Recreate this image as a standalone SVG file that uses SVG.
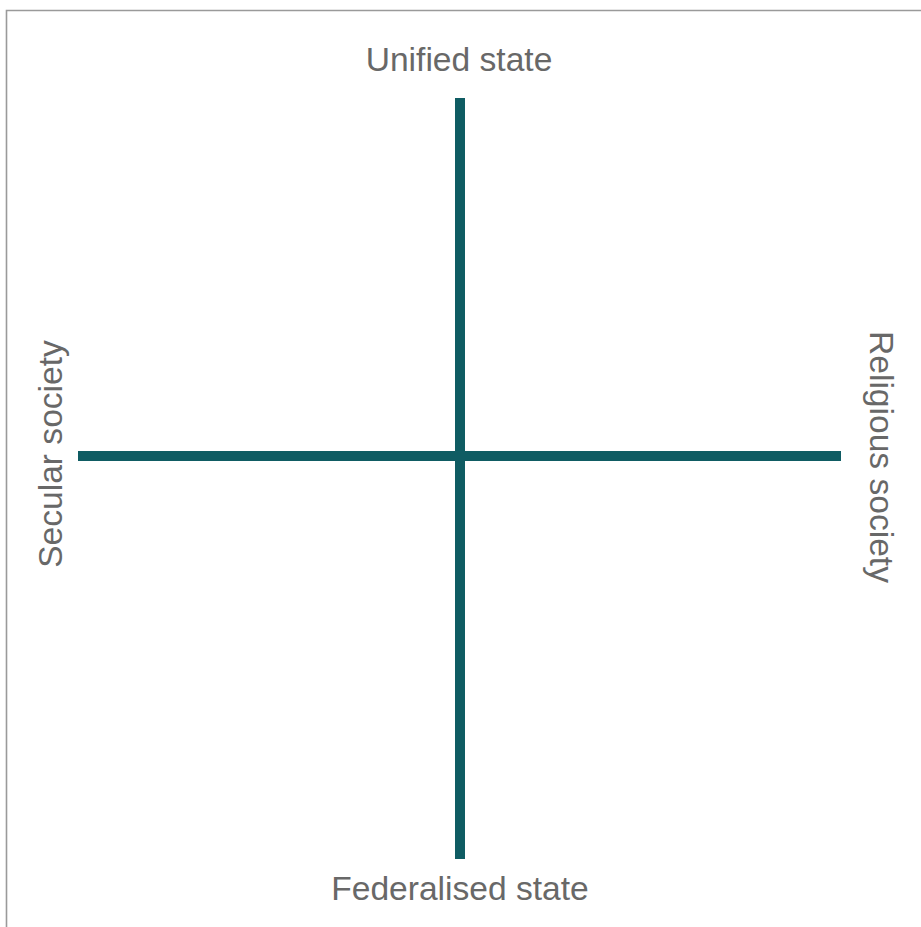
<svg xmlns="http://www.w3.org/2000/svg" width="921" height="927" viewBox="0 0 921 927">
<style>
.lbl{font-family:"Liberation Sans",Arial,Helvetica,sans-serif;font-size:33.6px;fill:#686868;text-anchor:middle}
.axis{stroke:#0f5c63;stroke-width:10;fill:none}
.frame{stroke:#9a9a9a;stroke-width:1.6;fill:none}
</style>
<rect width="921" height="927" fill="#ffffff"/>
<path class="frame" d="M6.5 927 V10.5 H921"/>
<g id="connectors">
<line class="axis" x1="460" y1="98" x2="460" y2="859"/>
<line class="axis" x1="78" y1="456" x2="841" y2="456"/>
</g>
<g id="unified"><text class="lbl" x="459" y="71">Unified state</text></g>
<g id="federalised"><text class="lbl" x="460" y="900">Federalised state</text></g>
<g id="secular"><text class="lbl" transform="translate(62,454) rotate(-90)">Secular society</text></g>
<g id="religious"><text class="lbl" transform="translate(870,457) rotate(90)">Religious society</text></g>
</svg>
